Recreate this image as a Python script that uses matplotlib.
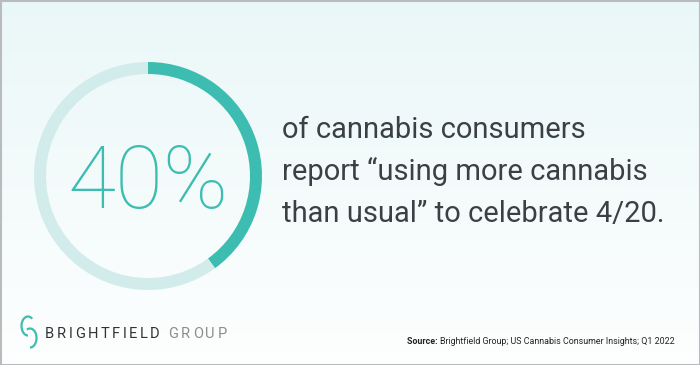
import numpy as np
import matplotlib.pyplot as plt
from matplotlib.patches import Arc

# data
share = 40
ring_values = [share, 100 - share]
headline = f"{share}%"
body_lines = [
    "of cannabis consumers",
    "report \u201cusing more cannabis",
    "than usual\u201d to celebrate 4/20.",
]
source_label = "Source:"
source_text = "Brightfield Group; US Cannabis Consumer Insights; Q1 2022"
brand_dark = "BRIGHTFIELD"
brand_light = "GROUP"

TEAL = "#3dbdb1"
TEAL_LIGHT = "#d2eceb"
TEXT = "#3b4045"

W, H = 700, 365
fig = plt.figure(figsize=(7, 3.65), dpi=100)

# background gradient
bg = fig.add_axes([0, 0, 1, 1])
grad = np.linspace(0, 1, 256).reshape(-1, 1)
top = np.array([0.918, 0.970, 0.972])
bottom = np.array([0.995, 0.998, 0.998])
img = top + (bottom - top) * grad[..., None]
bg.imshow(img, aspect="auto", extent=[0, W, H, 0])
bg.set_xlim(0, W)
bg.set_ylim(H, 0)
bg.axis("off")
# thin grey frame
bg.plot([0.5, W - 0.5, W - 0.5, 0.5, 0.5], [0.5, 0.5, H - 0.5, H - 0.5, 0.5],
        color="#b8bcbf", lw=1.5)

# donut ring
cx, cy, r = 148, 176, 114
ring = fig.add_axes([(cx - r) / W, (H - cy - r) / H, 2 * r / W, 2 * r / H])
ring.pie(ring_values, colors=[TEAL, TEAL_LIGHT], startangle=90,
         counterclock=False, radius=1,
         wedgeprops=dict(width=12 / r, edgecolor="none"))
ring.set_xlim(-1, 1)
ring.set_ylim(-1, 1)
ring.set_aspect("equal")
ring.axis("off")
ring.text(0, -0.07, headline, ha="center", va="center", fontsize=63,
          color=TEAL, family="Roboto", fontweight="light")

# statement text
for i, line in enumerate(body_lines):
    bg.text(282, 138 + i * 42, line, ha="left", va="baseline", fontsize=21,
            color=TEXT, family="Roboto")

# source
t = bg.text(407, 344, source_label + " ", ha="left", va="baseline", fontsize=6.4,
            color="#222222", family="Roboto", fontweight="bold")
fig.canvas.draw()
bb = t.get_window_extent()
bg.text(407 + bb.width, 344, source_text, ha="left", va="baseline", fontsize=6.4,
        color="#222222", family="Roboto")

# logo icon
bg.add_patch(Arc((28, 326), 13, 19, theta1=90, theta2=300, color=TEAL, lw=1.6))
bg.add_patch(Arc((30, 338), 13, 19, theta1=250, theta2=90, color=TEAL, lw=1.6))

# logo wordmark with letter spacing
x = 45
for word, col in [(brand_dark, "#2f3337"), (brand_light, "#8a8d90")]:
    for ch in word:
        tt = bg.text(x, 338, ch, ha="left", va="baseline", fontsize=10.5,
                     color=col, family="Roboto")
        fig.canvas.draw()
        x += tt.get_window_extent().width + 2.6
    x += 6

fig.savefig("out.png", dpi=100)
